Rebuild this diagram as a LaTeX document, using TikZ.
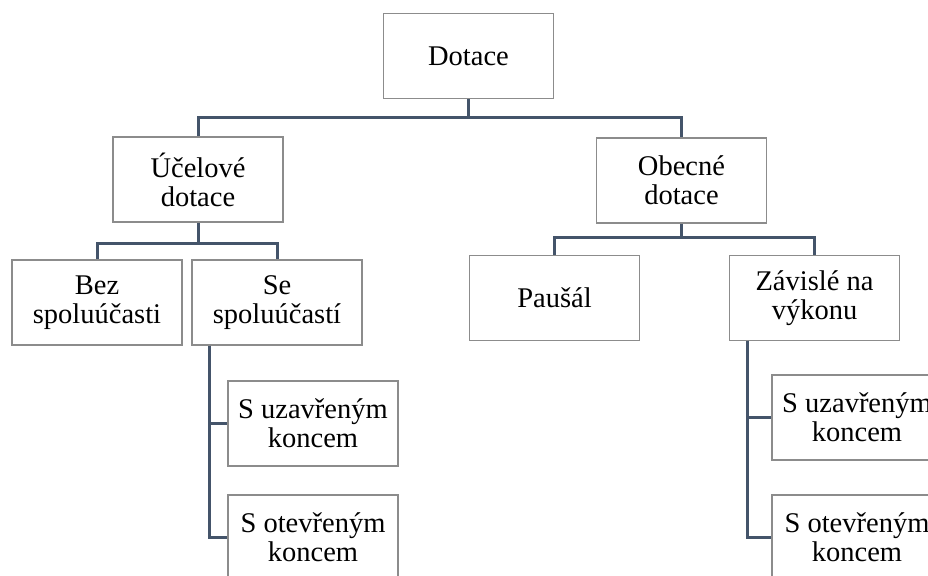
\documentclass[tikz,border=0pt]{standalone}
\usepackage{fontspec}
\setmainfont{Liberation Serif}
\definecolor{linka}{HTML}{44546A}
\definecolor{ramecek}{HTML}{8C8C8C}
\begin{document}
\begin{tikzpicture}[x=1pt,y=-1pt,
	box/.style={draw=ramecek,line width=1.2pt,fill=white,minimum width=170pt,minimum height=85pt,inner sep=0pt,align=center,font=\fontsize{28.5}{29}\selectfont},
	spoj/.style={draw=linka,line width=3pt}]
	\useasboundingbox (0,0) rectangle (928,575);
	\clip (0,0) rectangle (928,575);
	\node[box] (dot) at (468.5,56) {Dotace};
	\node[box] (uc) at (198,179.5) {Účelové\\dotace};
	\node[box] (ob) at (681.5,180.5) {Obecné\\dotace};
	\node[box] (bez) at (97,302.5) {Bez\\spoluúčasti};
	\node[box] (se) at (277,302.5) {Se\\spoluúčastí};
	\node[box] (pau) at (554.5,298) {Paušál};
	\node[box] (zav) at (814.5,298) {Závislé na\\výkonu};
	\node[box] (su1) at (313,423.5) {S uzavřeným\\koncem};
	\node[box] (so1) at (313,537.5) {S otevřeným\\koncem};
	\node[box] (su2) at (857,417.5) {S uzavřeným\\koncem};
	\node[box] (so2) at (857,537.5) {S otevřeným\\koncem};
	\coordinate (j1) at (468.5,118);
	\coordinate (j2) at (198,243);
	\coordinate (j3) at (681.5,237);
	\coordinate (k1) at (209,345.5);
	\coordinate (k2) at (747,340.5);
	\draw[spoj] (dot.south) -- (j1) -| (uc.north);
	\draw[spoj] (j1) -| (ob.north);
	\draw[spoj] (uc.south) -- (j2) -| (bez.north);
	\draw[spoj] (j2) -| (se.north);
	\draw[spoj] (ob.south) -- (j3) -| (pau.north);
	\draw[spoj] (j3) -| (zav.north);
	\draw[spoj] (k1) |- (su1.west);
	\draw[spoj] (k1) |- (so1.west);
	\draw[spoj] (k2) |- (su2.west);
	\draw[spoj] (k2) |- (so2.west);
\end{tikzpicture}
\end{document}
